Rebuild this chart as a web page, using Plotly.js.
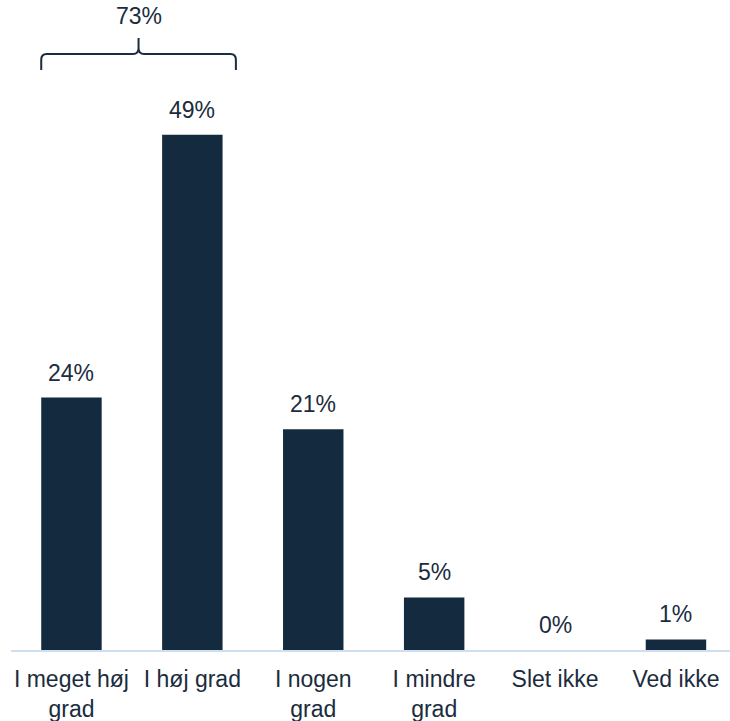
<!DOCTYPE html>
<html>
<head>
<meta charset="utf-8">
<script src="https://cdn.plot.ly/plotly-3.0.1.min.js"></script>
<style>
  html, body { margin: 0; padding: 0; background: #ffffff; overflow: hidden; }
  #chart { width: 730px; height: 721px; }
</style>
</head>
<body>
<div id="chart"></div>
<script>
// Answer categories and share of respondents (%)
const categories = ['I meget høj<br>grad', 'I høj grad', 'I nogen<br>grad', 'I mindre<br>grad', 'Slet ikke', 'Ved ikke'];
const shares = [24, 49, 21, 5, 0, 1];
// Categories grouped under the bracket (indices into the arrays above)
const groupedIdx = [0, 1];

const navy = '#142a3e';
const textColor = '#1a2c3d';
const fontFamily = '"Liberation Sans", Arial, sans-serif';

const xs = categories.map((_, i) => i);
const groupTotal = groupedIdx.reduce((s, i) => s + shares[i], 0);

// Value labels above each bar
const valueLabels = shares.map((v, i) => ({
  x: xs[i], y: v, xref: 'x', yref: 'y',
  text: v + '%', showarrow: false,
  yanchor: 'middle', yshift: 25,
  font: { family: fontFamily, size: 23, color: textColor }
}));

// Curly bracket spanning the grouped bars
const bx0 = xs[groupedIdx[0]] - 0.25;
const bx1 = xs[groupedIdx[groupedIdx.length - 1]] + 0.36;
const bxc = (bx0 + bx1) / 2;
const yLow = 55.15, yMid = 56.67, yTop = 58.2;
const rx = 0.045, ry = 0.55;
const bracePath =
  `M ${bx0},${yLow} L ${bx0},${yMid - ry} Q ${bx0},${yMid} ${bx0 + rx},${yMid} ` +
  `L ${bxc - rx},${yMid} Q ${bxc},${yMid} ${bxc},${yMid + ry} L ${bxc},${yTop} ` +
  `M ${bxc},${yMid + ry} Q ${bxc},${yMid} ${bxc + rx},${yMid} ` +
  `L ${bx1 - rx},${yMid} Q ${bx1},${yMid} ${bx1},${yMid - ry} L ${bx1},${yLow}`;

const groupLabel = {
  x: bxc, y: yTop, xref: 'x', yref: 'y',
  text: groupTotal + '%', showarrow: false,
  yanchor: 'middle', yshift: 22,
  font: { family: fontFamily, size: 23, color: textColor }
};

const trace = {
  type: 'bar',
  x: xs,
  y: shares,
  width: 0.5,
  marker: { color: navy, line: { width: 0 } },
  hoverinfo: 'skip'
};

const layout = {
  width: 730,
  height: 721,
  margin: { l: 11, r: 0, t: 19, b: 71 },
  paper_bgcolor: '#ffffff',
  plot_bgcolor: '#ffffff',
  showlegend: false,
  font: { family: fontFamily, size: 23, color: textColor },
  xaxis: {
    range: [-0.5, 5.447],
    tickmode: 'array',
    tickvals: xs,
    ticktext: categories,
    ticks: '',
    ticklabelstandoff: 7,
    showgrid: false,
    zeroline: false,
    showline: true,
    linecolor: '#cddff0',
    linewidth: 2,
    tickfont: { family: fontFamily, size: 23, color: textColor },
    fixedrange: true
  },
  yaxis: {
    range: [0, 60],
    visible: false,
    showgrid: false,
    zeroline: false,
    fixedrange: true
  },
  shapes: [{
    type: 'path', xref: 'x', yref: 'y',
    path: bracePath,
    line: { color: textColor, width: 2 }
  }],
  annotations: valueLabels.concat([groupLabel])
};

Plotly.newPlot('chart', [trace], layout, { displayModeBar: false, staticPlot: true });
</script>
</body>
</html>
